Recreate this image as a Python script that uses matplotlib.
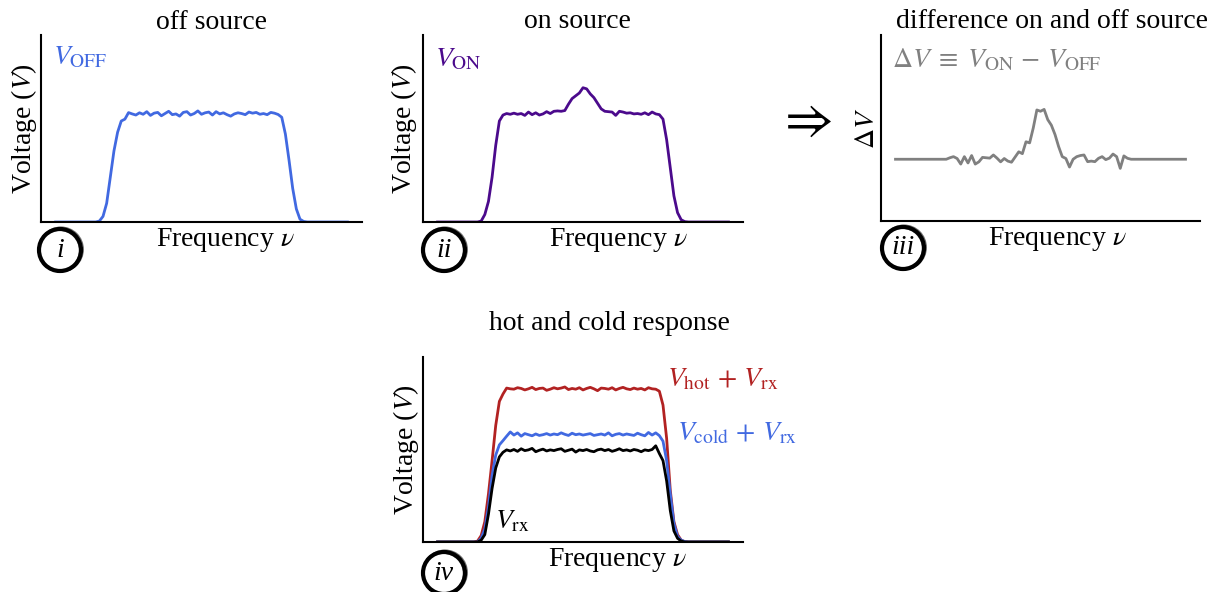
import numpy as np
import matplotlib.pyplot as plt
from matplotlib.patches import Ellipse

plt.rcParams['font.family'] = 'Liberation Serif'
plt.rcParams['mathtext.fontset'] = 'stix'

FIG_W, FIG_H = 1231, 592
DPI = 100
FONT_SIZE = 20
LINE_W = 2.0

# frequency grid (arbitrary units)
freq = np.linspace(0, 100, 81)

# panel i: off source
v_off = [0, 0, 0, 0, 0, 0, 0, 0, 0, 0, 0, 0,
         0.005, 0.03, 0.10, 0.24, 0.38, 0.48, 0.54, 0.55, 0.585,
         0.578, 0.572, 0.584, 0.576, 0.590, 0.570, 0.582, 0.586, 0.568, 0.580,
         0.592, 0.574, 0.578, 0.566, 0.586, 0.590, 0.572, 0.580, 0.594, 0.576,
         0.584, 0.588, 0.572, 0.590, 0.578, 0.584, 0.574, 0.566, 0.578, 0.584,
         0.580, 0.574, 0.588, 0.582, 0.586, 0.576, 0.580, 0.574, 0.586, 0.582,
         0.575, 0.56, 0.47, 0.33, 0.18, 0.07, 0.015, 0.003,
         0, 0, 0, 0, 0, 0, 0, 0, 0, 0, 0, 0]

# panel ii: on source
v_on = [0, 0, 0, 0, 0, 0, 0, 0, 0, 0, 0, 0,
        0.005, 0.04, 0.11, 0.24, 0.41, 0.54, 0.572, 0.58, 0.576,
        0.582, 0.576, 0.580, 0.570, 0.588, 0.574, 0.584, 0.572, 0.578, 0.590,
        0.580, 0.592, 0.594, 0.592, 0.596, 0.630, 0.660, 0.675, 0.690, 0.718,
        0.712, 0.685, 0.665, 0.635, 0.605, 0.592, 0.590, 0.588, 0.570, 0.592,
        0.588, 0.582, 0.584, 0.578, 0.580, 0.576, 0.584, 0.574, 0.588, 0.578,
        0.574,
        0.55, 0.44, 0.29, 0.14, 0.05, 0.012, 0.002,
        0, 0, 0, 0, 0, 0, 0, 0, 0, 0, 0, 0]

# panel iii: difference
dv = [0.332] * 14 + [
    0.332, 0.340, 0.346, 0.336, 0.306, 0.346, 0.312, 0.352, 0.306, 0.318,
    0.342, 0.340, 0.338, 0.355, 0.338, 0.318, 0.336, 0.322, 0.316, 0.344,
    0.372, 0.362, 0.426, 0.420, 0.500, 0.597, 0.590, 0.600, 0.545, 0.515,
    0.465, 0.400, 0.346, 0.336, 0.290, 0.332, 0.346, 0.352, 0.355, 0.319,
    0.322, 0.319, 0.337, 0.346, 0.330, 0.338, 0.360, 0.346, 0.283, 0.350,
    0.337, 0.332] + [0.332] * 15

# panel iv: hot / cold / receiver
v_hot = [0, 0, 0, 0, 0, 0, 0, 0, 0, 0, 0,
         0.005, 0.035, 0.11, 0.26, 0.44, 0.63, 0.76, 0.80, 0.832, 0.828,
         0.826, 0.834, 0.830, 0.822, 0.828, 0.836, 0.824, 0.830, 0.832, 0.820,
         0.826, 0.834, 0.828, 0.832, 0.838, 0.824, 0.830, 0.826, 0.834, 0.822,
         0.830, 0.836, 0.828, 0.818, 0.832, 0.830, 0.826, 0.834, 0.822, 0.830,
         0.836, 0.828, 0.824, 0.832, 0.826, 0.830, 0.822, 0.834, 0.828, 0.826,
         0.815, 0.74, 0.56, 0.28, 0.11, 0.04, 0.01, 0.002,
         0, 0, 0, 0, 0, 0, 0, 0, 0, 0, 0, 0]
v_cold = [0, 0, 0, 0, 0, 0, 0, 0, 0, 0, 0, 0,
          0.02, 0.07, 0.19, 0.36, 0.47, 0.525, 0.548, 0.572, 0.595,
          0.578, 0.590, 0.572, 0.586, 0.580, 0.574, 0.584, 0.576, 0.580, 0.586,
          0.578, 0.584, 0.580, 0.590, 0.582, 0.576, 0.588, 0.580, 0.584, 0.578,
          0.582, 0.586, 0.576, 0.580, 0.584, 0.578, 0.590, 0.574, 0.582, 0.586,
          0.578, 0.584, 0.580, 0.576, 0.588, 0.580, 0.574, 0.592, 0.578, 0.590,
          0.575, 0.545, 0.44, 0.26, 0.10, 0.03, 0.01, 0.002,
          0, 0, 0, 0, 0, 0, 0, 0, 0, 0, 0, 0]
v_rx = [0, 0, 0, 0, 0, 0, 0, 0, 0, 0, 0, 0,
        0.01, 0.04, 0.15, 0.29, 0.40, 0.46, 0.485, 0.498, 0.492,
        0.500, 0.490, 0.504, 0.494, 0.498, 0.506, 0.488, 0.496, 0.502, 0.492,
        0.498, 0.494, 0.500, 0.504, 0.490, 0.496, 0.502, 0.486, 0.498, 0.494,
        0.500, 0.492, 0.488, 0.498, 0.502, 0.494, 0.500, 0.490, 0.496, 0.504,
        0.494, 0.498, 0.492, 0.500, 0.496, 0.488, 0.498, 0.494, 0.500,
        0.52, 0.478, 0.44, 0.33, 0.17, 0.06, 0.02, 0.005, 0,
        0, 0, 0, 0, 0, 0, 0, 0, 0, 0, 0, 0]

C_OFF = '#4169e1'
C_ON = '#4b0a8c'
C_DIFF = '#808080'
C_HOT = '#b22222'
C_COLD = '#4169e1'
C_RX = 'black'

fig = plt.figure(figsize=(FIG_W / DPI, FIG_H / DPI), dpi=DPI)


def make_axes(x0, y0, x1, y1):
    # pixel box -> figure fraction
    ax = fig.add_axes([x0 / FIG_W, 1 - y1 / FIG_H,
                       (x1 - x0) / FIG_W, (y1 - y0) / FIG_H])
    ax.spines[['top', 'right']].set_visible(False)
    ax.spines[['left', 'bottom']].set_linewidth(1.5)
    ax.set_xticks([])
    ax.set_yticks([])
    ax.set_xlim(-5, 105)
    ax.set_ylim(0, 1)
    return ax


def roman_badge(cx, cy, label):
    # brush-like circle with the panel numeral
    strokes = [(0, 0, 0, 3.0, 1.0), (1.0, -0.6, 2.5, 1.0, 0.55),
               (-0.8, 0.5, -1.5, 0.9, 0.5), (0.4, 0.8, 1.2, 0.7, 0.4)]
    for dx, dy, dr, lw, a in strokes:
        fig.add_artist(Ellipse(((cx + dx) / FIG_W, 1 - (cy + dy) / FIG_H),
                               (42 + dr) / FIG_W, (42 + dr) / FIG_H,
                               transform=fig.transFigure, fill=False,
                               edgecolor='black', lw=lw, alpha=a))
    fig.text(cx / FIG_W, 1 - cy / FIG_H, label, fontsize=FONT_SIZE,
             fontstyle='italic', ha='center', va='center')


def title(cx, base_y, s):
    fig.text(cx / FIG_W, 1 - base_y / FIG_H, s, fontsize=FONT_SIZE,
             ha='center', va='baseline')


# (i) off source
ax1 = make_axes(41, 35, 362, 222)
ax1.plot(freq, v_off, color=C_OFF, lw=LINE_W)
ax1.set_xlabel(r'Frequency $\nu$', fontsize=FONT_SIZE)
ax1.xaxis.set_label_coords(0.573, -0.02)
ax1.set_ylabel(r'Voltage ($V$)', fontsize=FONT_SIZE)
ax1.yaxis.set_label_coords(-0.006, 0.5)
ax1.text(0.037, 0.88, r'$V_{\rm OFF}$', color=C_OFF, fontsize=FONT_SIZE,
         transform=ax1.transAxes, va='center')
title(211, 29, 'off source')
roman_badge(60, 250, 'i')

# (ii) on source
ax2 = make_axes(423, 35, 743, 222)
ax2.plot(freq, v_on, color=C_ON, lw=LINE_W)
ax2.set_xlabel(r'Frequency $\nu$', fontsize=FONT_SIZE)
ax2.xaxis.set_label_coords(0.61, -0.02)
ax2.set_ylabel(r'Voltage ($V$)', fontsize=FONT_SIZE)
ax2.yaxis.set_label_coords(-0.012, 0.5)
ax2.text(0.037, 0.87, r'$V_{\rm ON}$', color=C_ON, fontsize=FONT_SIZE,
         transform=ax2.transAxes, va='center')
title(577, 28, 'on source')
roman_badge(444, 250, 'ii')

# arrow
fig.text(805 / FIG_W, 1 - 122 / FIG_H, r'$\Rightarrow$', fontsize=38,
         ha='center', va='center')

# (iii) difference
ax3 = make_axes(881, 35, 1200, 221)
ax3.plot(freq, dv, color=C_DIFF, lw=LINE_W)
ax3.set_xlabel(r'Frequency $\nu$', fontsize=FONT_SIZE)
ax3.xaxis.set_label_coords(0.552, -0.02)
ax3.set_ylabel(r'$\Delta V$', fontsize=FONT_SIZE)
ax3.yaxis.set_label_coords(-0.004, 0.5)
ax3.text(0.034, 0.865, r'$\Delta V \;\equiv\; V_{\rm ON} \,-\, V_{\rm OFF}$',
         color=C_DIFF, fontsize=FONT_SIZE, transform=ax3.transAxes,
         va='center')
title(1052, 28, 'difference on and off source')
roman_badge(903, 248, 'iii')

# (iv) hot and cold
ax4 = make_axes(423, 357, 743, 542)
ax4.plot(freq, v_hot, color=C_HOT, lw=LINE_W)
ax4.plot(freq, v_cold, color=C_COLD, lw=LINE_W)
ax4.plot(freq, v_rx, color=C_RX, lw=LINE_W)
ax4.set_xlabel(r'Frequency $\nu$', fontsize=FONT_SIZE)
ax4.xaxis.set_label_coords(0.606, -0.02)
ax4.set_ylabel(r'Voltage ($V$)', fontsize=FONT_SIZE)
ax4.yaxis.set_label_coords(-0.006, 0.5)
ax4.text(0.7625, 0.88, r'$V_{\rm hot} \,+\, V_{\rm rx}$', color=C_HOT,
         fontsize=FONT_SIZE, transform=ax4.transAxes, va='center')
ax4.text(0.794, 0.584, r'$V_{\rm cold} \,+\, V_{\rm rx}$', color=C_COLD,
         fontsize=FONT_SIZE, transform=ax4.transAxes, va='center')
ax4.text(0.225, 0.11, r'$V_{\rm rx}$', color=C_RX,
         fontsize=FONT_SIZE, transform=ax4.transAxes, va='center')
title(609, 330, 'hot and cold response')
roman_badge(444, 573, 'iv')

fig.savefig('out.png', dpi=DPI)
